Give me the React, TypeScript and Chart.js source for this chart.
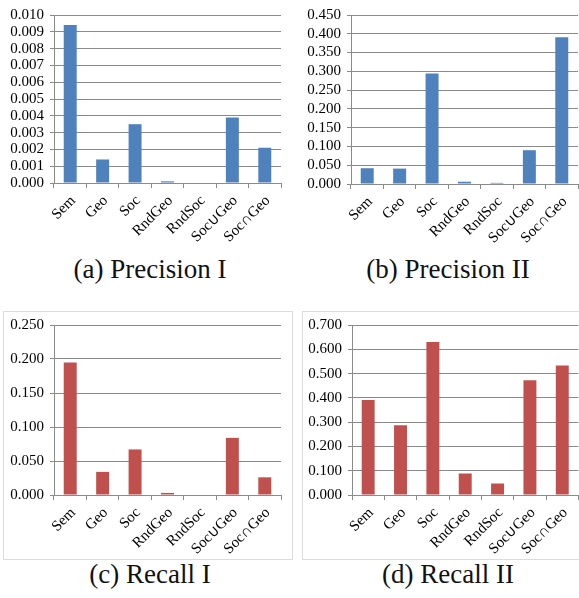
import React, { useEffect, useRef } from "react";
import { Chart, registerables } from "chart.js";

Chart.register(...registerables);

const categories = ["Sem", "Geo", "Soc", "RndGeo", "RndSoc", "Soc\u222AGeo", "Soc\u2229Geo"];

const precisionI = [0.0094, 0.0014, 0.0035, 0.0001, 0.0, 0.0039, 0.0021];
const precisionII = [0.042, 0.041, 0.294, 0.006, 0.003, 0.09, 0.391];
const recallI = [0.195, 0.034, 0.067, 0.003, 0.0, 0.084, 0.026];
const recallII = [0.391, 0.287, 0.63, 0.089, 0.047, 0.472, 0.533];

const captions = ["(a) Precision I", "(b) Precision II", "(c) Recall I", "(d) Recall II"];

const BLUE = "#4F81BD";
const RED = "#C0504D";
const GRID = "#8a8a8a";
const FONT = "'Liberation Serif', serif";

type PanelProps = {
  values: number[];
  color: string;
  yMax: number;
  yStep: number;
  left: number;
  top: number;
  width: number;
  height: number;
  axisWidth: number;
  padTop: number;
  padRight: number;
  xAxisHeight: number;
};

function Panel(p: PanelProps) {
  const ref = useRef<HTMLCanvasElement | null>(null);
  useEffect(() => {
    if (!ref.current) return;
    const chart = new Chart(ref.current, {
      type: "bar",
      data: {
        labels: categories,
        datasets: [
          {
            data: p.values,
            backgroundColor: p.color,
            borderWidth: 0,
            categoryPercentage: 1,
            barPercentage: 0.4,
          },
        ],
      },
      options: {
        animation: false,
        responsive: false,
        maintainAspectRatio: false,
        layout: { padding: { top: p.padTop, right: p.padRight, left: 0, bottom: 0 } },
        plugins: { legend: { display: false }, tooltip: { enabled: false } },
        scales: {
          x: {
            offset: true,
            grid: {
              offset: true,
              drawOnChartArea: false,
              drawTicks: true,
              tickLength: 5,
              color: GRID,
            },
            border: { color: GRID, width: 1 },
            ticks: {
              minRotation: 45,
              maxRotation: 45,
              autoSkip: false,
              padding: 4,
              labelOffset: 3,
              color: "#000",
              font: { family: FONT, size: 15 },
            },
            afterFit: (scale: any) => {
              scale.height = p.xAxisHeight;
            },
          },
          y: {
            min: 0,
            max: p.yMax,
            grid: { color: GRID, tickLength: 4, lineWidth: 1 },
            border: { color: GRID, width: 1 },
            ticks: {
              stepSize: p.yStep,
              autoSkip: false,
              padding: 6,
              color: "#000",
              font: { family: FONT, size: 15 },
              callback: (v: any) => Number(v).toFixed(3),
            },
            afterFit: (scale: any) => {
              scale.width = p.axisWidth;
            },
          },
        },
      },
    });
    return () => chart.destroy();
  }, []);
  return (
    <canvas
      ref={ref}
      width={p.width}
      height={p.height}
      style={{ position: "absolute", left: p.left, top: p.top, width: p.width, height: p.height }}
    />
  );
}

const captionStyle = (left: number, top: number): React.CSSProperties => ({
  position: "absolute",
  left,
  top,
  width: 290,
  textAlign: "center",
  fontFamily: FONT,
  fontSize: 27,
  lineHeight: "30px",
  color: "#111",
  whiteSpace: "nowrap",
});

export default function App() {
  return (
    <div
      style={{
        position: "absolute",
        left: 0,
        top: 0,
        width: 579,
        height: 598,
        overflow: "hidden",
        background: "#fff",
      }}
    >
      <div style={{ position: "absolute", left: 3, top: 311, width: 290, height: 249, border: "1px solid #dcdcdc", boxSizing: "border-box" }} />
      <div style={{ position: "absolute", left: 302, top: 311, width: 300, height: 249, border: "1px solid #dcdcdc", boxSizing: "border-box" }} />
      <Panel values={precisionI} color={BLUE} yMax={0.01} yStep={0.001} left={0} top={0} width={290} height={250} axisWidth={54} padTop={13} padRight={9} xAxisHeight={67} />
      <Panel values={precisionII} color={BLUE} yMax={0.45} yStep={0.05} left={290} top={0} width={289} height={250} axisWidth={61} padTop={14} padRight={1} xAxisHeight={66} />
      <Panel values={recallI} color={RED} yMax={0.25} yStep={0.05} left={0} top={300} width={290} height={255} axisWidth={54} padTop={25} padRight={9} xAxisHeight={60} />
      <Panel values={recallII} color={RED} yMax={0.7} yStep={0.1} left={290} top={300} width={289} height={255} axisWidth={62} padTop={25} padRight={0} xAxisHeight={60} />
      <div style={captionStyle(5, 254)}>{captions[0]}</div>
      <div style={captionStyle(303, 254)}>{captions[1]}</div>
      <div style={captionStyle(5, 559)}>{captions[2]}</div>
      <div style={captionStyle(303, 559)}>{captions[3]}</div>
    </div>
  );
}
